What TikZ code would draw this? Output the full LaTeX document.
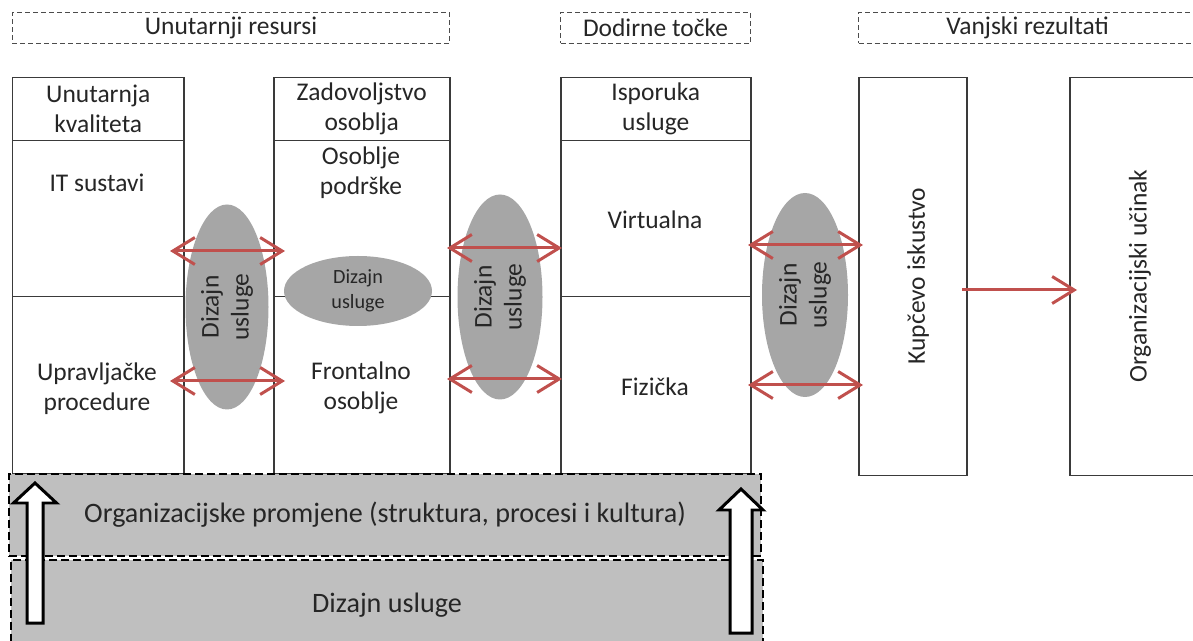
\documentclass[tikz,border=0pt]{standalone}
\usepackage{fontspec}
\setmainfont{Carlito}
\usetikzlibrary{arrows.meta,shapes.geometric}
\definecolor{redarr}{HTML}{C0504D}
\definecolor{ellgray}{HTML}{A6A6A6}
\definecolor{bandgray}{HTML}{BFBFBF}
\definecolor{txt}{HTML}{262626}
\definecolor{edge}{HTML}{3A3A3A}
\tikzset{
  sz/.style n args={2}{minimum width=#1*0.02cm, minimum height=#2*0.02cm},
  cellbox/.style={draw=edge, line width=0.03cm, inner sep=0, anchor=north west, align=center},
  hdrbox/.style={draw=black!70, line width=0.02cm, dash pattern=on 0.1cm off 0.06cm, inner sep=0, anchor=north west},
  lbl/.style={align=center, inner sep=0},
  ell/.style={ellipse, fill=ellgray, inner sep=0, align=center},
  redline/.style={draw=redarr, line width=0.06cm, {Straight Barb[length=0.44cm,width=0.54cm]}-{Straight Barb[length=0.44cm,width=0.54cm]}},
  redone/.style={draw=redarr, line width=0.06cm, -{Straight Barb[length=0.44cm,width=0.54cm]}},
  bandbox/.style={fill=bandgray, draw=black, line width=0.04cm, dash pattern=on 0.16cm off 0.08cm, inner sep=0, anchor=north west, align=center, font=\fontsize{16}{19}\selectfont},
  blockarrow/.style={fill=white, draw=black, line width=0.06cm, line join=miter}
}
\begin{document}
\begin{tikzpicture}[x=0.02cm, y=-0.02cm, font=\fontsize{14.5}{17}\selectfont, text=txt]
\useasboundingbox (0,0) rectangle (1193,641);

% header dashed boxes
\node[hdrbox, sz={437}{31}] (hres) at (12,12) {Unutarnji resursi};
\node[hdrbox, sz={190}{31}] (htoc) at (560,12) {Dodirne točke};
\node[hdrbox, sz={338}{31}] (hvan) at (858,12) {Vanjski rezultati};

% column 1
\node[cellbox, sz={171}{63}]  (h1)  at (12,77)  {Unutarnja\\kvaliteta};
\node[cellbox, sz={171}{156}] (c1a) at (12,140) {};
\node[cellbox, sz={171}{177}] (c1b) at (12,296) {};
% column 2
\node[cellbox, sz={176}{63}]  (h2)  at (273,77)  {Zadovoljstvo\\osoblja};
\node[cellbox, sz={176}{156}] (c2a) at (273,140) {};
\node[cellbox, sz={176}{177}] (c2b) at (273,296) {};
% column 3
\node[cellbox, sz={190}{63}]  (h3)  at (560,77)  {Isporuka\\usluge};
\node[cellbox, sz={190}{156}] (c3a) at (560,140) {};
\node[cellbox, sz={190}{177}] (c3b) at (560,296) {};
% outcome boxes
\node[cellbox, sz={108}{398}] (kup) at (858,77) {};
\node[cellbox, sz={146}{398}] (org) at (1069,77) {};
\node[lbl, rotate=90] (kupt) at (918,276) {Kupčevo iskustvo};
\node[lbl, rotate=90] (orgt) at (1140,276) {Organizacijski učinak};

% cell texts
\node[lbl] (t1a) at (97,183) {IT sustavi};
\node[lbl] (t1b) at (97,389) {Upravljačke\\procedure};
\node[lbl] (t2a) at (361,173) {Osoblje\\podrške};
\node[lbl] (t2b) at (361,388) {Frontalno\\osoblje};
\node[lbl] (t3a) at (655,220) {Virtualna};
\node[lbl] (t3b) at (655,387) {Fizička};

% ellipses
\node[ell, rotate=90, sz={205}{83}] (e1) at (227,307) {Dizajn\\usluge};
\node[ell, sz={148}{70}, font=\fontsize{11.5}{14}\selectfont] (e2) at (358,291) {Dizajn\\usluge};
\node[ell, rotate=90, sz={205}{85}] (e3) at (500,297) {Dizajn\\usluge};
\node[ell, rotate=90, sz={204}{86}] (e4) at (805,295) {Dizajn\\usluge};

% arrow end points
\coordinate (a1ul) at (170,251); \coordinate (a1ur) at (285,251);
\coordinate (a1ll) at (170,381); \coordinate (a1lr) at (285,381);
\coordinate (a2ul) at (447,248); \coordinate (a2ur) at (562,248);
\coordinate (a2ll) at (447,379); \coordinate (a2lr) at (562,379);
\coordinate (a3ul) at (748,245); \coordinate (a3ur) at (863,245);
\coordinate (a3ll) at (748,385); \coordinate (a3lr) at (863,385);
\coordinate (kupout) at (962,290); \coordinate (orgin) at (1077,290);

\draw[redline] (a1ul) -- (a1ur);
\draw[redline] (a1ll) -- (a1lr);
\draw[redline] (a2ul) -- (a2ur);
\draw[redline] (a2ll) -- (a2lr);
\draw[redline] (a3ul) -- (a3ur);
\draw[redline] (a3ll) -- (a3lr);
\draw[redone] (kupout) -- (orgin);

% bottom bands
\node[bandbox, sz={752}{90}] (band2) at (10,559) {Dizajn usluge};
\node[bandbox, sz={752}{82}] (band1) at (8,473) {Organizacijske promjene (struktura, procesi i kultura)};

% block arrows
\draw[blockarrow] (35,483) -- (56.5,503) -- (43,503) -- (43,623) -- (27,623) -- (27,503) -- (13.5,503) -- cycle;
\draw[blockarrow] (741,489) -- (763,510) -- (752,510) -- (752,633) -- (730,633) -- (730,510) -- (719,510) -- cycle;
\end{tikzpicture}
\end{document}
